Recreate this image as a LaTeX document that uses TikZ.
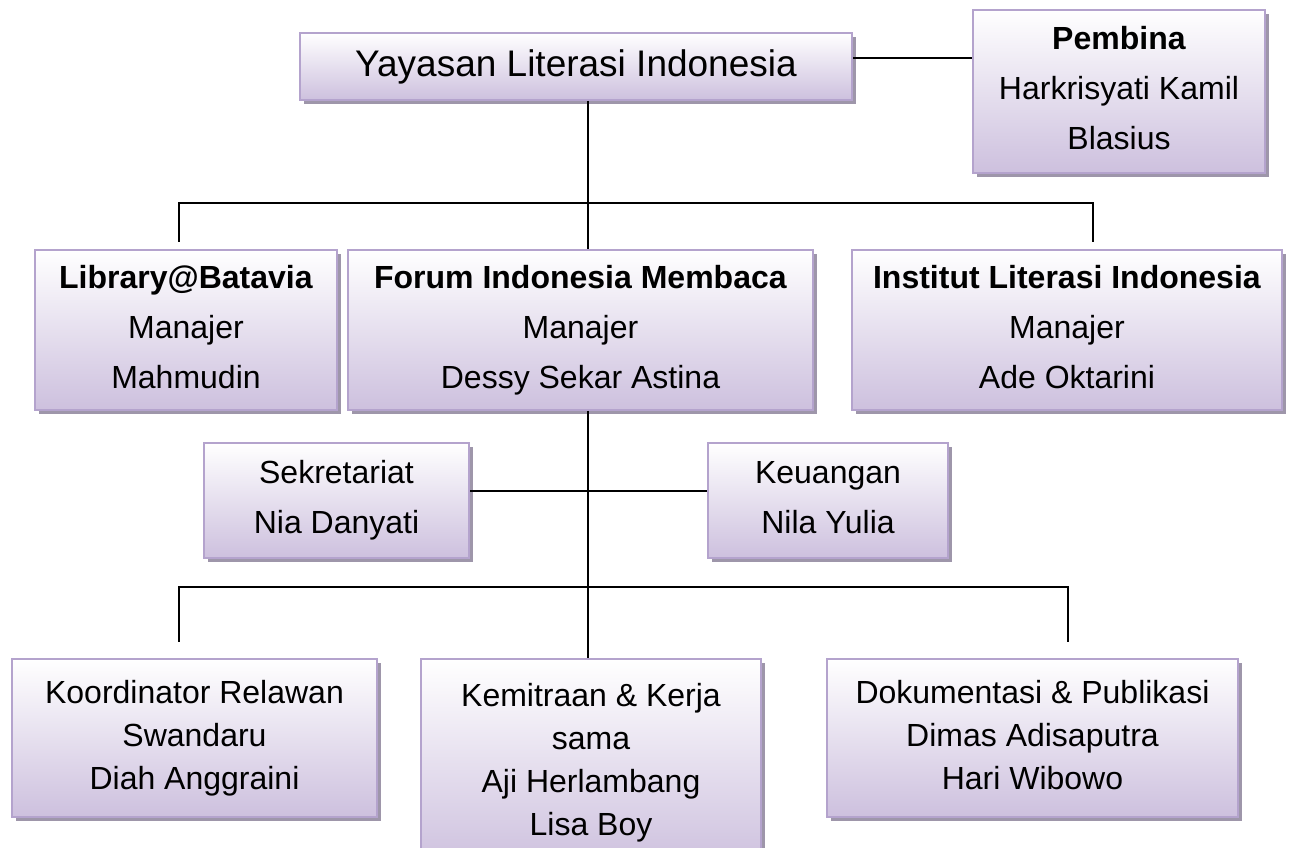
\documentclass[tikz,border=0pt]{standalone}
\usepackage{fontspec}
\setmainfont{Liberation Sans}
\usetikzlibrary{shadows,positioning,calc}
\definecolor{boxline}{RGB}{180,163,205}
\definecolor{boxfill}{RGB}{205,192,222}
\definecolor{boxshadow}{RGB}{158,150,170}
\tikzstyle{unit}=[rectangle,draw=boxline,line width=1.5pt,top color=white,
               bottom color=boxfill,align=center,inner sep=0pt,
               drop shadow={shadow xshift=3pt,shadow yshift=-3pt,fill=boxshadow,opacity=1},
               execute at end node=\vphantom{y},
               font=\fontsize{24}{37.5}\selectfont]
\tikzstyle{unit head}=[unit,font=\fontsize{27.75}{33}\selectfont]
\tikzstyle{unit low}=[unit,font=\fontsize{24}{32.25}\selectfont]
\tikzstyle{link}=[draw,black,line width=1pt]

\begin{document}
\begin{tikzpicture}[x=0.75pt,y=-0.75pt]

% % % % % % % % % % % % % % %

\path[use as bounding box] (0,0) rectangle (1290,848);
\clip (0,0) rectangle (1290,848);

\node[unit head,minimum width=414pt,minimum height=50.25pt] (yli) at (576,66.5) {Yayasan Literasi Indonesia};
\node[unit,minimum width=219pt,minimum height=122.25pt] (pembina) at (1119,91.5) {\textbf{Pembina}\\Harkrisyati Kamil\\Blasius};

\node[unit,minimum width=226.5pt,minimum height=120pt] (lib) at (186,330) {\textbf{Library@Batavia}\\Manajer\\Mahmudin};
\node[unit,minimum width=348.75pt,minimum height=120pt] (fim) at (580.5,330) {\textbf{Forum Indonesia Membaca}\\Manajer\\Dessy Sekar Astina};
\node[unit,minimum width=322.5pt,minimum height=120pt] (ili) at (1067,330) {\textbf{Institut Literasi Indonesia}\\Manajer\\Ade Oktarini};

\node[unit,minimum width=198.75pt,minimum height=86.25pt] (sek) at (336.5,500.5) {Sekretariat\\Nia Danyati};
\node[unit,minimum width=180pt,minimum height=86.25pt] (keu) at (828,500.5) {Keuangan\\Nila Yulia};

\node[unit low,minimum width=273.75pt,minimum height=118.5pt] (relawan) at (194.5,738) {Koordinator Relawan\\Swandaru\\Diah Anggraini};
\node[unit low,minimum width=255pt,minimum height=156pt] (mitra) at (591,763) {Kemitraan \& Kerja\\sama\\Aji Herlambang\\Lisa Boy};
\node[unit low,minimum width=308.25pt,minimum height=118.5pt] (dokpub) at (1032.5,738) {Dokumentasi \& Publikasi\\Dimas Adisaputra\\Hari Wibowo};

% connectors
\coordinate (mid) at (588,0);
\coordinate (tie) at (0,58);
\coordinate (staff) at (0,491);
\coordinate (barL) at (179,203);
\coordinate (barR) at (1093,203);
\coordinate (dropL) at (179,242);
\coordinate (dropR) at (1093,242);
\coordinate (rowL) at (179,587);
\coordinate (rowR) at (1068,587);
\coordinate (legL) at (179,642);
\coordinate (legR) at (1068,642);

\draw[link] (yli.east |- tie)--(pembina.west |- tie);
\draw[link] (yli.south -| mid)--(fim.north -| mid);
\draw[link] (dropL)--(barL)--(barR)--(dropR);
\draw[link] (fim.south -| mid)--(mitra.north -| mid);
\draw[link] (sek.east |- staff)--(keu.west |- staff);
\draw[link] (legL)--(rowL)--(rowR)--(legR);

\end{tikzpicture}
\end{document}
